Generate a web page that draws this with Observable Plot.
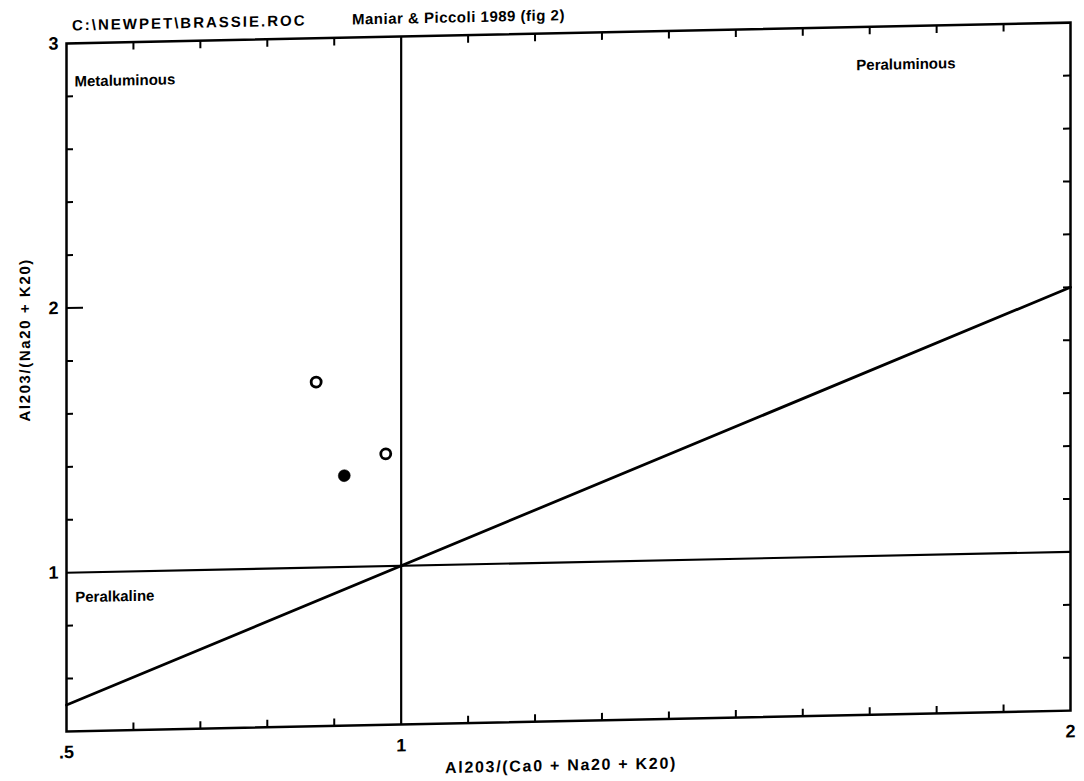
<!DOCTYPE html>
<html>
<head>
<meta charset="utf-8">
<script src="https://cdn.jsdelivr.net/npm/d3@7"></script>
<script src="https://cdn.jsdelivr.net/npm/@observablehq/plot@0.6"></script>
<style>
  html, body { margin: 0; padding: 0; background: #fff; overflow: hidden; }
  #wrap { position: relative; width: 1084px; height: 781px; transform: skewY(-1.19deg); transform-origin: 66px 0; }
  #wrap svg { position: absolute; left: 0; top: 0; overflow: visible; }
  .lbl { position: absolute; font-family: "Liberation Sans", Arial, sans-serif; font-size: 15px; font-weight: bold; color: #000; white-space: nowrap; line-height: 1; }
</style>
</head>
<body>
<div id="wrap"></div>
<script>
// ---- data ----
const fileName = "C:\\NEWPET\\BRASSIE.ROC";
const diagramTitle = "Maniar & Piccoli 1989 (fig 2)";
const xTitle = "Al203/(Ca0 + Na20 + K20)";
const yTitle = "Al203/(Na20 + K20)";

const xDomain = [0.5, 2];
const yDomain = [0.4, 3];
const xTickValues = [0.5, 1, 2];
const xTickLabels = [".5", "1", "2"];
const yTickValues = [1, 2, 3];
const yTickLabels = ["1", "2", "3"];
const xMinorTicks = [0.6, 0.7, 0.8, 0.9, 1.1, 1.2, 1.3, 1.4, 1.5, 1.6, 1.7, 1.8, 1.9];
const yMinorTicks = [0.6, 0.8, 1.2, 1.4, 1.6, 1.8, 2.2, 2.4, 2.6, 2.8];
const yMajorTicks = [2];
const yRightTicks = [0.6, 0.8, 1.2, 1.4, 1.6, 1.8, 2, 2.2, 2.4, 2.6, 2.8];

const boundaryX = [1];
const boundaryY = [1];
const diagX = [0.5, 2];
const diagY = [0.5, 2];

const sampleX = [0.873, 0.977, 0.915];
const sampleY = [1.701, 1.424, 1.345];
const sampleType = ["open", "open", "filled"];

const regionNames = ["Metaluminous", "Peraluminous", "Peralkaline"];
const regionX = [0.512, 1.68, 0.513];
const regionY = [2.855, 2.855, 0.906];

// ---- build ----
const W = 1084, H = 781;
const mL = 66, mR = 14, mT = 43, mB = 50;
const pw = W - mL - mR, ph = H - mT - mB;

const samples = sampleX.map((x, i) => ({x, y: sampleY[i], type: sampleType[i]}));
const regions = regionNames.map((name, i) => ({name, x: regionX[i], y: regionY[i]}));
const diag = diagX.map((x, i) => ({x, y: diagY[i]}));

const chart = Plot.plot({
  width: W, height: H,
  marginLeft: mL, marginRight: mR, marginTop: mT, marginBottom: mB,
  style: {fontFamily: "'Liberation Sans', Arial, sans-serif", fontSize: "18px", fontWeight: "bold", background: "white", color: "black", overflow: "visible"},
  x: {domain: xDomain, ticks: xTickValues, tickFormat: d => xTickLabels[xTickValues.indexOf(d)], tickSize: 0, tickPadding: 14, label: null},
  y: {domain: yDomain, ticks: yTickValues, tickFormat: d => yTickLabels[yTickValues.indexOf(d)], tickSize: 0, tickPadding: 8, label: null},
  marks: [
    // inward minor ticks
    Plot.ruleX(xMinorTicks, {x: d => d, insetTop: ph - 7, stroke: "black", strokeWidth: 2}),
    Plot.ruleX(xMinorTicks, {x: d => d, insetBottom: ph - 8, stroke: "black", strokeWidth: 2}),
    Plot.ruleY(yMinorTicks, {y: d => d, insetRight: pw - 7, stroke: "black", strokeWidth: 2}),
    Plot.ruleY(yMajorTicks, {y: d => d, insetRight: pw - 17, stroke: "black", strokeWidth: 2}),
    Plot.ruleY(yRightTicks, {y: d => d, insetLeft: pw - 7, stroke: "black", strokeWidth: 2}),
    // boundaries
    Plot.ruleX(boundaryX, {x: d => d, stroke: "black", strokeWidth: 2.2}),
    Plot.ruleY(boundaryY, {y: d => d, stroke: "black", strokeWidth: 2.2}),
    Plot.line(diag, {x: "x", y: "y", stroke: "black", strokeWidth: 2.8}),
    // samples
    Plot.dot(samples.filter(d => d.type === "open"), {x: "x", y: "y", r: 5, stroke: "black", strokeWidth: 2.8, fill: "white"}),
    Plot.dot(samples.filter(d => d.type === "filled"), {x: "x", y: "y", r: 6, fill: "black", stroke: "black", strokeWidth: 0.5}),
    // region labels
    Plot.text(regions, {x: "x", y: "y", text: "name", textAnchor: "start", fontSize: 15, fontWeight: "bold", fill: "black"}),
    Plot.frame({stroke: "black", strokeWidth: 2.5})
  ]
});

const wrap = document.getElementById("wrap");
wrap.appendChild(chart);

function addLabel(text, left, top, extra) {
  const el = document.createElement("div");
  el.className = "lbl";
  el.textContent = text;
  el.style.left = left + "px";
  el.style.top = top + "px";
  Object.assign(el.style, extra || {});
  wrap.appendChild(el);
  return el;
}
addLabel(fileName, 72, 25, {transform: "translateY(-50%)", letterSpacing: "2px"});
addLabel(diagramTitle, 352, 25, {transform: "translateY(-50%)", letterSpacing: "0.5px"});
addLabel(xTitle, 561, 776, {transform: "translate(-50%,-50%)", fontSize: "16px", letterSpacing: "1.7px"});
addLabel(yTitle, 24, 339, {transform: "translate(-50%,-50%) rotate(-90deg)", letterSpacing: "1.6px"});
</script>
</body>
</html>
